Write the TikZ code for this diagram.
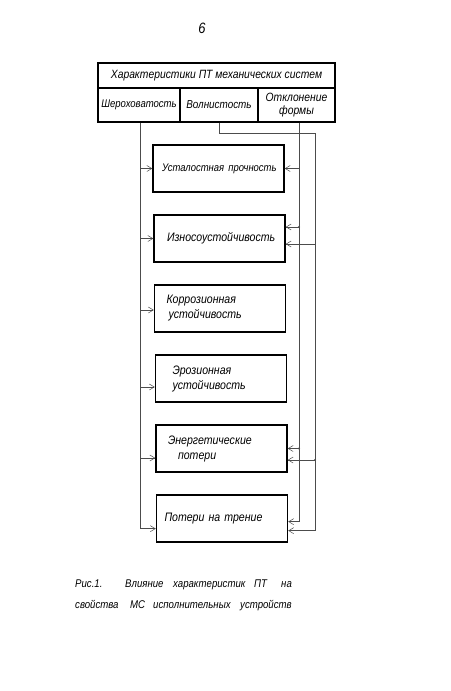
\documentclass[tikz,border=0pt]{standalone}
\usepackage{fontspec}
\setmainfont{Liberation Sans}[ItalicFont={Liberation Sans Italic},ItalicFeatures={FakeStretch=0.86}]
\usetikzlibrary{arrows.meta,calc}
\begin{document}
\begin{tikzpicture}[x=1pt,y=-1pt,
  every node/.style={font=\fontsize{11.5}{13}\itshape\selectfont},
  cell/.style={draw,line width=1.3pt,inner sep=0pt,anchor=center},
  box/.style={draw,line width=1.4pt,minimum width=131pt,minimum height=47pt,inner xsep=4pt,inner ysep=0pt,text width=123pt,align=left,font=\fontsize{12.3}{15}\itshape\selectfont},
  word/.style={anchor=base west,inner sep=0pt,font=\fontsize{11.2}{14}\itshape\selectfont},
  wire/.style={draw=black!70,line width=0.5pt},
  arr/.style={wire,-{Straight Barb[length=5pt,width=6pt]}},
  dot/.style={circle,fill=black!70,inner sep=0pt,minimum size=2.4pt}
]
\useasboundingbox (0,0) rectangle (450,691);
% page number
\node[font=\fontsize{15}{16}\itshape\selectfont] (pg) at (202,28) {6};
% header table
\node[cell,minimum width=237pt,minimum height=25pt,font=\fontsize{12}{13}\itshape\selectfont] (title) at (216.5,75.5) {Характеристики ПТ механических систем};
\node[cell,minimum width=82pt,minimum height=34pt,font=\fontsize{11.1}{13}\itshape\selectfont] (sh) at (139,105) {Шероховатость};
\node[cell,minimum width=78pt,minimum height=34pt] (vo) at (219,105) {Волнистость};
\node[cell,minimum width=77pt,minimum height=34pt,align=center,font=\fontsize{12}{13}\itshape\selectfont] (ot) at (296.5,105) {Отклонение\\формы};
% property boxes
\node[box] (b1) at (218.5,168.5) {\hspace*{5pt}\mbox{\fontsize{11}{13}\itshape\selectfont Усталостная прочность}};
\node[box] (b2) at (219.5,238.5) {\hspace*{9pt}Износоустойчивость};
\node[box] (b3) at (220,308.5) {\hspace*{8pt}Коррозионная\\\hspace*{10pt}устойчивость};
\node[box] (b4) at (221,378.5) {\hspace*{13pt}Эрозионная\\\hspace*{13pt}устойчивость};
\node[box] (b5) at (221.5,448.5) {\hspace*{8pt}Энергетические\\\hspace*{18pt}потери};
\node[box] (b6) at (222,518.5) {\hspace*{4pt}Потери на трение};
% caption
\node[word] (c1) at (75,587) {Рис.1.};
\node[word] (c2) at (125,587) {Влияние};
\node[word] (c3) at (173,587) {характеристик};
\node[word] (c4) at (254,587) {ПТ};
\node[word] (c5) at (281,587) {на};
\node[word] (c6) at (75,608) {свойства};
\node[word] (c7) at (130,608) {МС};
\node[word] (c8) at (153,608) {исполнительных};
\node[word] (c9) at (240,608) {устройств};
% trunk coordinates
\coordinate (sx) at ($(sh.south)+(1,0)$);
\coordinate (sEnd) at ($(sx)+(0,406)$);
\coordinate (ox) at ($(ot.south)+(2.5,0)$);
\coordinate (oEnd) at ($(ox)+(0,399)$);
\coordinate (vTurn) at ($(vo.south)+(0,11)$);
\coordinate (vx) at ($(vTurn)+(96,0)$);
\coordinate (vEnd) at ($(vx)+(0,397)$);
% left trunk (Шероховатость)
\draw[wire] (sx) -- (sEnd);
\draw[arr] (sx |- b1.west) -- (b1.west);
\draw[arr] (sx |- b2.west) -- (b2.west);
\draw[arr] ($(sx |- b3.west)+(0,1.5)$) -- ($(b3.west)+(0,1.5)$);
\draw[arr] ($(sx |- b4.west)+(0,8.5)$) -- ($(b4.west)+(0,8.5)$);
\draw[arr] ($(sx |- b5.west)+(0,9.5)$) -- ($(b5.west)+(0,9.5)$);
\draw[arr] (sEnd) -- (sEnd -| b6.west);
% Отклонение формы trunk
\draw[wire] (ox) -- (oEnd);
\draw[arr] (ox |- b1.east) -- (b1.east);
\draw[arr] ($(ox |- b2.east)+(0,-11.5)$) -- ($(b2.east)+(0,-11.5)$);
\draw[arr] (ox |- b5.east) -- (b5.east);
\draw[arr] (oEnd) -- (oEnd -| b6.east);
\node[dot] (d1) at ($(ox |- b2.east)+(0,-11.5)$) {};
\node[dot] (d2) at (ox |- b5.east) {};
% Волнистость trunk
\draw[wire] (vo.south) -- (vTurn) -- (vx) -- (vEnd);
\draw[arr] ($(vx |- b2.east)+(0,5.5)$) -- ($(b2.east)+(0,5.5)$);
\draw[arr] ($(vx |- b5.east)+(0,11.5)$) -- ($(b5.east)+(0,11.5)$);
\draw[arr] (vEnd) -- (vEnd -| b6.east);
\node[dot] (d3) at ($(vx |- b5.east)+(0,11.5)$) {};
\end{tikzpicture}
\end{document}
